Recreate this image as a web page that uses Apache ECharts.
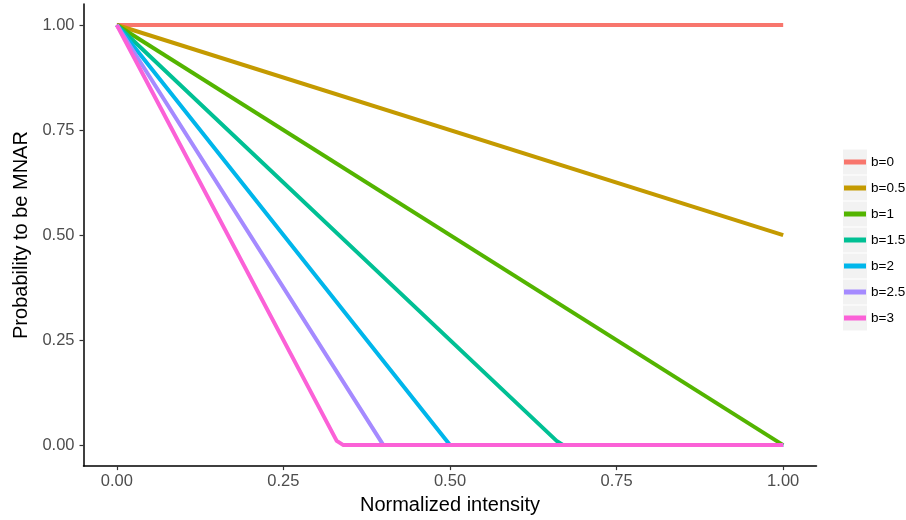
<!DOCTYPE html>
<html><head><meta charset="utf-8">
<script src="https://cdn.jsdelivr.net/npm/echarts@6/dist/echarts.min.js"></script>
<style>html,body{margin:0;padding:0;background:#fff}#c{width:906px;height:520px}</style>
</head><body><div id="c"></div>
<script>
const seriesNames = ['b=0','b=0.5','b=1','b=1.5','b=2','b=2.5','b=3'];
const colors = ['#F8766D','#C49A00','#53B400','#00C094','#00B6EB','#A58AFF','#FB61D7'];
const tickValues = [0,0.25,0.5,0.75,1];
const b0 = [[0,1],[1,1]];
const b05 = [[0,1],[1,0.5]];
const b1 = [[0,1],[1,0]];
const b15 = [[0,1],[0.66,0.01],[0.67,0],[1,0]];
const b2 = [[0,1],[0.5,0],[1,0]];
const b25 = [[0,1],[0.4,0],[1,0]];
const b3 = [[0,1],[0.33,0.01],[0.34,0],[1,0]];
const allData = [b0,b05,b1,b15,b2,b25,b3];

const font = 'Liberation Sans, Arial, sans-serif';
const chart = echarts.init(document.getElementById('c'));
const keyTop = 149.5, keyStep = 26;
const graphics = seriesNames.map((n,i)=>({
  type:'rect', left:843, top:keyTop+i*keyStep, z:-1,
  shape:{width:24,height:25}, style:{fill:'#F2F2F2'}
}));
chart.setOption({
  animation:false,
  color: colors,
  graphic: graphics,
  grid:{left:83.5,right:89.5,top:4,bottom:51.5,containLabel:false},
  legend:{
    orient:'vertical', left:844, top:keyTop+2.5, padding:0,
    icon:'rect', itemWidth:22, itemHeight:5, itemGap:6,
    textStyle:{fontFamily:font,fontSize:13.5,color:'#000',lineHeight:20},
    data: seriesNames
  },
  xAxis:{
    type:'value', min:-0.05, max:1.05,
    name:'Normalized intensity', nameLocation:'middle', nameGap:27,
    nameTextStyle:{fontFamily:font,fontSize:20,color:'#000'},
    axisLine:{show:true,onZero:false,lineStyle:{color:'#000',width:1.5}},
    axisTick:{show:true,length:4,customValues:tickValues,lineStyle:{color:'#333',width:1.2}},
    axisLabel:{customValues:tickValues,fontFamily:font,fontSize:16.5,color:'#4D4D4D',margin:7,
      formatter:v=>v.toFixed(2)},
    splitLine:{show:false}
  },
  yAxis:{
    type:'value', min:-0.05, max:1.05,
    name:'Probability to be MNAR', nameLocation:'middle', nameGap:51,
    nameTextStyle:{fontFamily:font,fontSize:20,color:'#000'},
    axisLine:{show:true,onZero:false,lineStyle:{color:'#000',width:1.5}},
    axisTick:{show:true,length:4,customValues:tickValues,lineStyle:{color:'#333',width:1.2}},
    axisLabel:{customValues:tickValues,fontFamily:font,fontSize:16.5,color:'#4D4D4D',margin:9,
      formatter:v=>v.toFixed(2)},
    splitLine:{show:false}
  },
  series: seriesNames.map((n,i)=>({
    name:n, type:'line', data:allData[i], showSymbol:false, symbol:'none',
    lineStyle:{width:4,color:colors[i],join:'round',cap:'butt'},
    itemStyle:{color:colors[i]}, z:2+i
  }))
});
</script></body></html>
